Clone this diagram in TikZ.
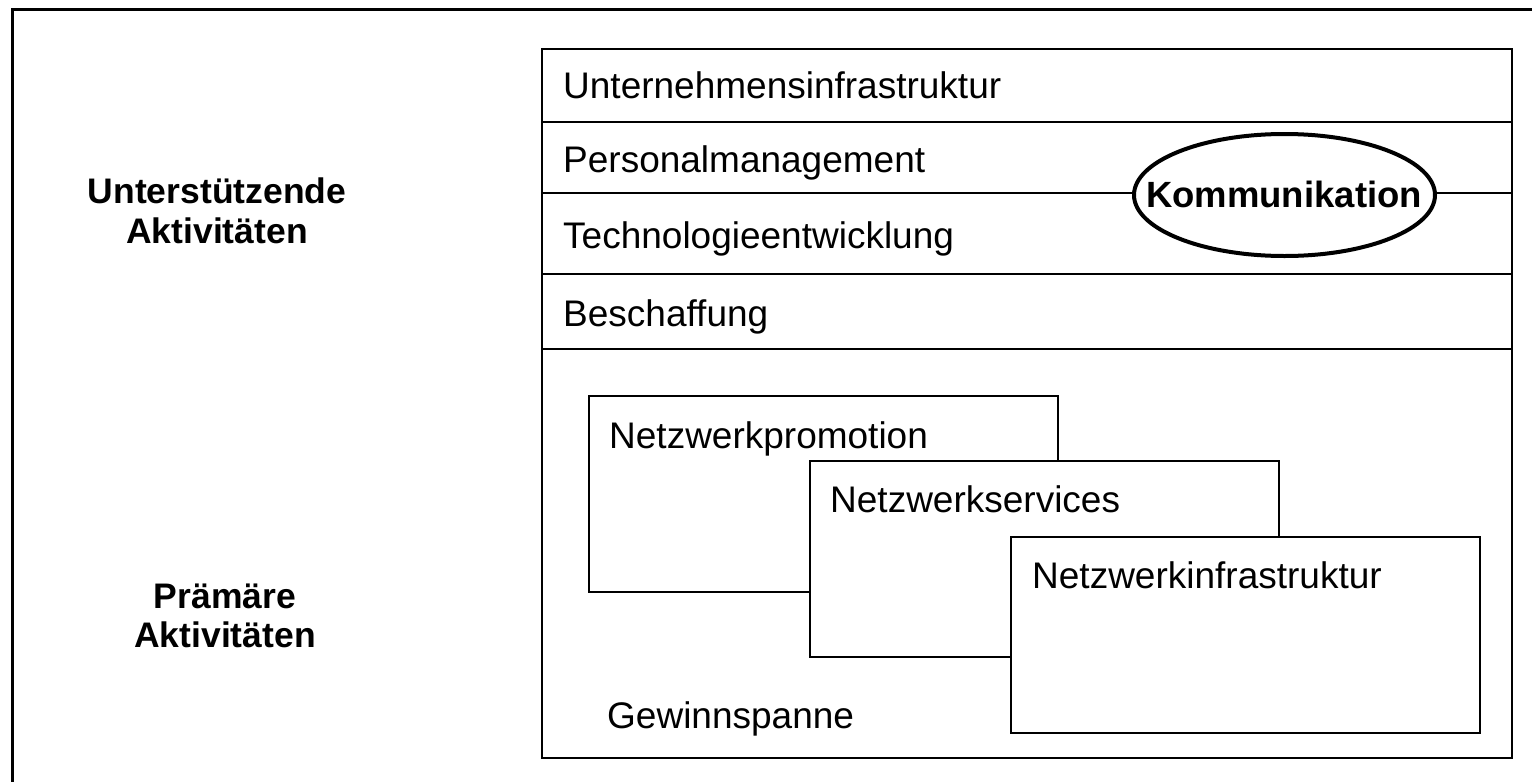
\documentclass[tikz,border=0pt]{standalone}
\usepackage{fontspec}
\setmainfont{Liberation Sans}
\usetikzlibrary{shapes.geometric}
\begin{document}
\begin{tikzpicture}[x=1pt,y=-1pt,
  outerframe/.style={line width=3pt},
  mainframe/.style={draw, line width=2pt, anchor=north west, inner sep=0pt, minimum width=970pt, minimum height=709pt},
  rowsep/.style={line width=2pt},
  rowtext/.style={anchor=base west, inner sep=0pt, font=\fontsize{37}{44}\selectfont},
  sidetext/.style={align=center, inner sep=0pt, font=\fontsize{35.5}{39.5}\selectfont\bfseries},
  netbox/.style={draw, fill=white, line width=2pt, anchor=north west, inner sep=0pt, minimum width=469pt, minimum height=196pt},
  kommellipse/.style={draw, fill=white, ellipse, line width=4pt, inner sep=0pt, minimum width=301pt, minimum height=122pt},
  kommtext/.style={inner sep=0pt, font=\fontsize{36.5}{40}\selectfont\bfseries}
]
\useasboundingbox (0,0) rectangle (1532,782);
% outer frame (cut off at right and bottom)
\coordinate (ofbl) at (12,782);
\coordinate (oftl) at (12,9);
\coordinate (oftr) at (1532,9);
\draw[outerframe] (ofbl) -- (oftl) -- (oftr);

% main box
\node[mainframe] (main) at (541,48) {};
\draw[rowsep] (541,122) -- (1511,122);
\draw[rowsep] (541,193) -- (1511,193);
\draw[rowsep] (541,274) -- (1511,274);
\draw[rowsep] (541,349) -- (1511,349);

\node[rowtext] (r1) at (563,98) {Unternehmensinfrastruktur};
\node[rowtext] (r2) at (563,172) {Personalmanagement};
\node[rowtext] (r3) at (563,248) {Technologieentwicklung};
\node[rowtext] (r4) at (563,326) {Beschaffung};

% Kommunikation ellipse
\node[kommellipse] (kell) at (1284.5,195) {};
\node[kommtext] (komm) at (1284,194) {Kommunikation};

% side labels
\node[sidetext] (support) at (217,211) {Unterstützende\\Aktivitäten};
\node[sidetext] (primary) at (225,616) {Prämäre\\Aktivitäten};

% primary activity boxes
\node[netbox] (p1) at (588,395) {};
\node[rowtext] (p1t) at ([shift={(21,53)}]p1.north west) {Netzwerkpromotion};
\node[netbox] (p2) at (809,460) {};
\node[rowtext] (p2t) at ([shift={(21,52)}]p2.north west) {Netzwerkservices};
\node[netbox] (p3) at (1010,536) {};
\node[rowtext] (p3t) at ([shift={(22,52)}]p3.north west) {Netzwerkinfrastruktur};

\node[rowtext] (gewinn) at (607,728) {Gewinnspanne};
\end{tikzpicture}
\end{document}
